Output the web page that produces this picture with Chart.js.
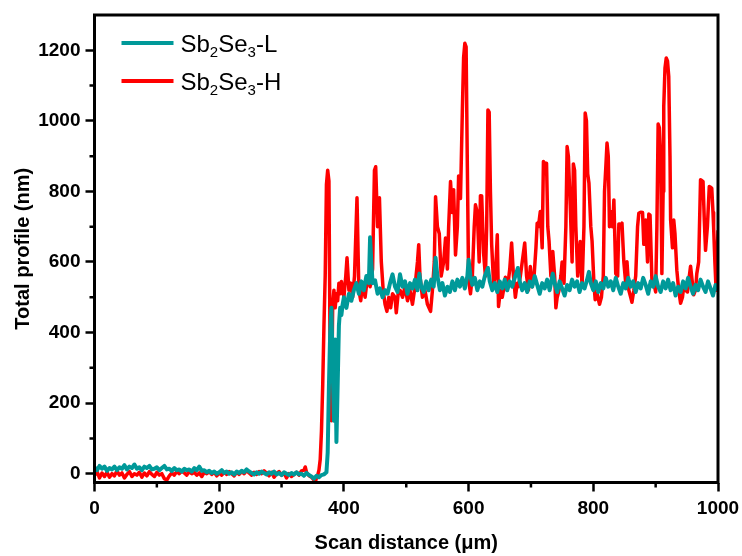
<!DOCTYPE html>
<html>
<head>
<meta charset="utf-8">
<script src="https://cdn.jsdelivr.net/npm/chart.js@4.4.1/dist/chart.umd.min.js"></script>
<style>
    html, body { margin: 0; padding: 0; background: #ffffff; }
    #wrap { width: 742px; height: 556px; position: relative; }
</style>
</head>
<body>
<div id="wrap"><canvas id="grafico"></canvas></div>
<script>
// ============================================
// DADOS
// ============================================

const seriesNames = ['Sb2Se3-L', 'Sb2Se3-H'];
const seriesColors = ['#009999', '#ff0000'];

const xTickValues = [0, 200, 400, 600, 800, 1000];
const xMinorTicks = [100, 300, 500, 700, 900];
const yTickValues = [0, 200, 400, 600, 800, 1000, 1200];
const yMinorTicks = [100, 300, 500, 700, 900, 1100];

// Sb2Se3-L (teal)
const lowX = [0, 4, 8, 12, 16, 20, 24, 28, 32, 36, 40, 44, 48, 52, 56, 60, 64, 68, 72, 76, 80, 84, 88, 92, 96, 100,
    104, 108, 112, 116, 120, 124, 128, 132, 136, 140, 144, 148, 152, 156, 160, 164, 168, 172, 176, 180, 184, 188, 192, 196, 200,
    204, 208, 212, 216, 220, 224, 228, 232, 236, 240, 244, 248, 252, 256, 260, 264, 268, 272, 276, 280, 284, 288, 292, 296, 300,
    304, 308, 312, 316, 320, 324, 328, 332, 336, 340, 344, 348, 352, 356, 360, 364, 368, 372,
    374, 376, 378, 380, 382, 384, 386, 388, 390, 392, 394, 396, 398, 400, 404, 408, 412, 416, 420, 424, 428, 432, 436, 440,
    442, 444, 446, 450, 454, 458, 462, 466, 470, 474, 478, 482, 486, 490, 494, 498, 502, 506, 510, 514, 518, 521, 524,
    528, 532, 536, 540, 544, 547, 550, 554, 558, 562, 566, 570, 574, 578, 582, 586, 590, 594, 598, 600, 603, 606, 610, 614,
    618, 622, 626, 631, 634, 638, 642, 646, 650, 654, 658, 662, 666, 670, 674, 679, 682, 686, 690, 694, 698, 702, 706, 710,
    714, 718, 722, 726, 730, 735, 738, 742, 746, 750, 754, 758, 762, 766, 770, 774, 778, 782, 786, 790, 793, 796, 800, 804,
    808, 812, 816, 820, 824, 828, 832, 836, 840, 844, 848, 852, 856, 860, 864, 868, 872, 876, 880, 884, 888, 892, 896, 900,
    904, 908, 912, 916, 920, 924, 928, 932, 936, 940, 944, 948, 952, 956, 960, 964, 968, 972, 976, 980, 984, 988, 992, 996, 1000];
const lowY = [18, 10, 22, 14, 20, 8, 16, 12, 20, 10, 18, 14, 24, 12, 20, 16, 26, 14, 18, 10, 20, 16, 22, 12, 14, 18,
    10, 16, 22, 12, 14, 8, 16, 10, 12, 6, 14, 10, 12, 6, 16, 10, 20, 8, 10, 4, 8, 2, 6, 0, 4,
    10, 2, 6, 0, 4, -2, 6, 2, 8, 4, 12, 6, 2, -2, 4, 0, 6, 2, -2, 4, 0, 6, -2, 2, -4,
    4, 0, -4, 2, -2, 4, -2, 0, -6, 2, -4, -8, -14, -6, -10, -4, -2, 4,
    60, 250, 400, 470, 300, 150, 380, 90, 250, 420, 470, 450, 480, 500, 470, 510, 490, 520, 540, 510, 545, 520, 560, 540,
    670, 600, 540, 548, 510, 525, 500, 520, 510, 540, 565, 530, 515, 565, 530, 545, 510, 540, 525, 550, 520, 567, 530,
    515, 545, 520, 550, 530, 612, 560, 520, 540, 505, 530, 515, 545, 520, 550, 530, 555, 525, 560, 606, 560, 535, 555, 520,
    545, 530, 560, 583, 545, 520, 540, 515, 545, 525, 550, 520, 545, 530, 555, 583, 545, 520, 540, 515, 545, 530, 560, 535,
    510, 540, 525, 550, 520, 567, 540, 515, 545, 525, 505, 535, 520, 550, 530, 545, 515, 540, 525, 550, 572, 540, 520, 545,
    515, 540, 525, 555, 530, 545, 520, 555, 530, 510, 540, 525, 555, 530, 545, 515, 540, 525, 555, 535, 510, 545, 530, 560,
    530, 515, 545, 525, 550, 520, 540, 505, 530, 515, 545, 525, 555, 530, 510, 535, 520, 550, 530, 515, 545, 525, 505, 535, 520];

// Sb2Se3-H (vermelho)
const highX = [0, 4, 8, 12, 16, 20, 24, 28, 32, 36, 40, 44, 48, 52, 56, 60, 64, 68, 72, 76, 80, 84, 88, 92, 96, 100,
    104, 108, 112, 116, 120, 124, 128, 132, 136, 140, 144, 148, 152, 156, 160, 164, 168, 172, 176, 180, 184, 188, 192, 196, 200,
    204, 208, 212, 216, 220, 224, 228, 232, 236, 240, 244, 248, 252, 256, 260, 264, 268, 272, 276, 280, 284, 288, 292, 296, 300,
    304, 308, 312, 316, 320, 324, 328, 332, 336, 338, 340, 344, 348, 352, 354, 356, 358, 360, 362, 364, 366, 368, 370, 372,
    374, 376, 378, 380, 382, 384, 386, 388, 390, 392, 394, 396, 398, 400, 403, 405, 408, 411, 414, 417, 421, 424, 427, 430,
    434, 438, 442, 446, 449, 451, 454, 457, 460, 463, 466, 469, 472, 475, 478, 482, 484, 487, 490, 494, 498, 502, 506, 510,
    514, 518, 520, 522, 526, 530, 534, 539, 542, 545, 547, 550, 553, 556, 560, 563, 566, 568, 571, 574, 576, 579, 582, 584,
    587, 590, 592, 594, 596, 598, 600, 603, 606, 609, 611, 614, 617, 619, 621, 624, 627, 629, 631, 633, 635, 637, 640, 643,
    646, 648, 651, 654, 657, 659, 662, 666, 669, 672, 675, 678, 680, 683, 686, 690, 693, 696, 699, 702, 705, 708, 710, 712,
    715, 718, 720, 722, 725, 727, 729, 732, 735, 738, 740, 742, 745, 748, 750, 753, 756, 758, 760, 763, 766, 768, 770, 772,
    775, 779, 782, 785, 787, 789, 791, 793, 796, 798, 801, 803, 806, 810, 813, 816, 818, 820, 822, 824, 826, 828, 831, 833,
    836, 839, 841, 844, 846, 849, 852, 854, 857, 860, 862, 865, 868, 871, 873, 876, 879, 881, 884, 887, 889, 891, 894, 897,
    900, 902, 904, 906, 908, 910, 912, 913, 915, 917, 919, 921, 923, 924, 927, 929, 931, 934, 937, 940, 943, 945, 948, 951,
    954, 956, 959, 961, 964, 966, 969, 972, 974, 976, 978, 980, 983, 986, 988, 990, 992, 993, 995, 997, 1000];
const highY = [-5, 6, -12, 2, -8, 4, -10, 0, -6, 8, -4, 2, -12, -2, 6, -8, 0, -4, 4, -10, 2, -6, 6, -2, -8, 4,
    -4, 0, -14, -18, -6, 2, -4, 6, 0, 8, 2, -4, 6, 0, 4, -4, 2, -8, 4, 0, 6, -2, 4, -6, 2,
    -4, 4, -2, 6, 0, -6, 4, -2, 6, 0, 10, 2, -4, 4, -2, 6, 0, 8, 2, -6, 4, -10, 0, 6, -4,
    2, -12, 0, -8, -2, 4, -4, 8, 10, 19, 4, -6, -10, -18, -24, -12, -4, 10, 40, 120, 250, 420, 560, 820,
    860, 830, 300, 150, 480, 520, 470, 510, 490, 540, 510, 545, 520, 500, 560, 612, 520, 540, 500, 560, 782, 520, 490, 540,
    500, 560, 530, 580, 860, 870, 700, 782, 600, 520, 480, 460, 500, 470, 510, 500, 456, 510, 520, 500, 530, 490, 520, 480,
    530, 600, 649, 560, 500, 520, 480, 460, 520, 600, 785, 700, 680, 560, 600, 668, 580, 700, 828, 740, 805, 620, 700, 844,
    780, 1031, 1180, 1220, 1210, 870, 550, 510, 560, 700, 762, 740, 600, 788, 787, 626, 560, 700, 1031, 1025, 800, 650, 540, 560,
    677, 474, 520, 500, 530, 557, 520, 580, 654, 560, 500, 540, 530, 560, 600, 654, 560, 520, 587, 530, 560, 640, 710, 700,
    743, 640, 885, 880, 880, 700, 660, 560, 630, 560, 470, 499, 520, 560, 600, 540, 700, 927, 900, 760, 600, 878, 860, 700,
    560, 658, 530, 700, 1022, 1000, 850, 824, 700, 660, 540, 493, 510, 480, 500, 560, 800, 866, 937, 900, 700, 743, 700, 776,
    567, 560, 708, 705, 710, 600, 540, 601, 520, 500, 486, 520, 560, 700, 738, 741, 740, 650, 719, 600, 736, 733, 550, 540,
    515, 700, 991, 980, 908, 567, 800, 1041, 1150, 1178, 1170, 1126, 900, 719, 640, 719, 680, 576, 520, 483, 500, 530, 520, 515,
    560, 588, 540, 507, 520, 567, 600, 833, 831, 828, 720, 633, 700, 814, 812, 809, 740, 697, 600, 520, 690];

// ============================================
// PLUGINS
// ============================================

// Moldura, ticks menores e legenda com subscritos
const molduraPlugin = {
    id: 'moldura',
    afterDraw(chart) {
        const ctx = chart.ctx;
        const area = chart.chartArea;
        const xs = chart.scales.x;
        const ys = chart.scales.y;

        ctx.save();
        ctx.strokeStyle = '#000000';
        ctx.lineWidth = 3;
        ctx.strokeRect(area.left, area.top, area.right - area.left, area.bottom - area.top);

        // ticks menores
        ctx.lineWidth = 2.5;
        ctx.beginPath();
        xMinorTicks.forEach(v => {
            const px = xs.getPixelForValue(v);
            ctx.moveTo(px, area.bottom);
            ctx.lineTo(px, area.bottom + 5);
        });
        yMinorTicks.forEach(v => {
            const py = ys.getPixelForValue(v);
            ctx.moveTo(area.left, py);
            ctx.lineTo(area.left - 5, py);
        });
        ctx.stroke();

        // legenda
        seriesNames.forEach((nome, i) => {
            const ly = area.top + 28 + i * 38;
            ctx.strokeStyle = seriesColors[i];
            ctx.lineWidth = 4;
            ctx.beginPath();
            ctx.moveTo(area.left + 27, ly);
            ctx.lineTo(area.left + 79, ly);
            ctx.stroke();

            let tx = area.left + 86;
            ctx.fillStyle = '#000000';
            ctx.textBaseline = 'alphabetic';
            ctx.textAlign = 'left';
            nome.split(/(\d)/).filter(p => p !== '').forEach(parte => {
                const sub = /^\d$/.test(parte);
                ctx.font = sub ? '15px "Liberation Sans", Arial, sans-serif' : '24px "Liberation Sans", Arial, sans-serif';
                ctx.fillText(parte, tx, ly + 8.5 + (sub ? 5 : 0));
                tx += ctx.measureText(parte).width;
            });
        });
        ctx.restore();
    }
};

// ============================================
// GRÁFICO
// ============================================

function criarGrafico() {
    const ctx = document.getElementById('grafico').getContext('2d');
    const fonteTick = { family: '"Liberation Sans", Arial, sans-serif', size: 19, weight: 'bold' };
    const fonteTitulo = { family: '"Liberation Sans", Arial, sans-serif', size: 20, weight: 'bold' };

    new Chart(ctx, {
        type: 'line',
        data: {
            datasets: [
                {
                    label: seriesNames[0],
                    data: lowX.map((x, i) => ({ x: x, y: lowY[i] })),
                    borderColor: seriesColors[0],
                    borderWidth: 4,
                    pointRadius: 0,
                    tension: 0,
                    borderJoinStyle: 'round'
                },
                {
                    label: seriesNames[1],
                    data: highX.map((x, i) => ({ x: x, y: highY[i] })),
                    borderColor: seriesColors[1],
                    borderWidth: 3.5,
                    pointRadius: 0,
                    tension: 0,
                    borderJoinStyle: 'round'
                }
            ]
        },
        options: {
            responsive: true,
            maintainAspectRatio: false,
            animation: false,
            layout: {
                padding: { left: 0, right: 24, top: 15, bottom: 0 }
            },
            plugins: {
                legend: { display: false },
                tooltip: { enabled: false }
            },
            scales: {
                x: {
                    type: 'linear',
                    min: 0,
                    max: 1000,
                    afterFit: s => {
                        s.height = 73.5;
                        s.paddingLeft = 0;
                        s.paddingRight = 0;
                    },
                    afterBuildTicks: s => { s.ticks = xTickValues.map(v => ({ value: v })); },
                    border: { display: false },
                    grid: {
                        drawOnChartArea: false,
                        drawTicks: true,
                        tickLength: 9,
                        tickWidth: 2.5,
                        tickColor: '#000000'
                    },
                    ticks: {
                        color: '#000000',
                        font: fonteTick,
                        padding: 6,
                        maxRotation: 0,
                        callback: v => String(v)
                    },
                    title: {
                        display: true,
                        text: 'Scan distance (μm)',
                        color: '#000000',
                        font: fonteTitulo,
                        padding: { top: 0, bottom: 1 }
                    }
                },
                y: {
                    type: 'linear',
                    min: -25,
                    max: 1300,
                    afterFit: s => {
                        s.width = 94.5;
                        s.paddingTop = 0;
                        s.paddingBottom = 0;
                    },
                    afterBuildTicks: s => { s.ticks = yTickValues.map(v => ({ value: v })); },
                    border: { display: false },
                    grid: {
                        drawOnChartArea: false,
                        drawTicks: true,
                        tickLength: 9,
                        tickWidth: 2.5,
                        tickColor: '#000000'
                    },
                    ticks: {
                        color: '#000000',
                        font: fonteTick,
                        padding: 5,
                        callback: v => String(v)
                    },
                    title: {
                        display: true,
                        text: 'Total profile (nm)',
                        color: '#000000',
                        font: fonteTitulo,
                        padding: { top: 11, bottom: 0 }
                    }
                }
            }
        },
        plugins: [molduraPlugin]
    });
}

criarGrafico();
</script>
</body>
</html>
